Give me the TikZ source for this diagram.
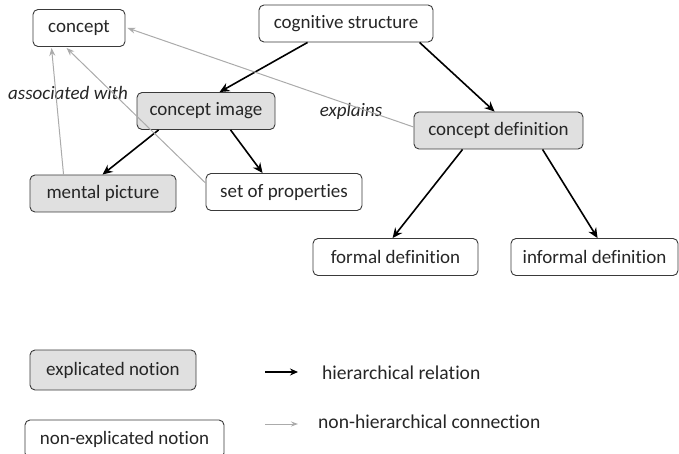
\documentclass[tikz,border=0pt]{standalone}
\usepackage{fontspec}
\setmainfont{Carlito}[Ligatures=NoCommon]
\usetikzlibrary{arrows.meta}
\definecolor{txt}{HTML}{262626}
\definecolor{edge}{HTML}{3A3A3A}
\definecolor{shade}{HTML}{E0E0E0}
\definecolor{soft}{HTML}{ABABAB}
\tikzset{
  notion/.style={draw=edge, line width=0.9pt, rounded corners=5pt, fill=white,
    text=txt, font=\fontsize{19}{21}\selectfont, minimum height=37pt, inner sep=0pt},
  explicated/.style={notion, fill=shade},
  hier/.style={draw=black, line width=1.6pt, -{Stealth[length=10pt,width=9pt]}},
  nonhier/.style={draw=soft, line width=1pt, -{Stealth[length=8pt,width=6pt]}},
  lbl/.style={text=txt, font=\fontsize{19}{21}\selectfont\itshape, inner sep=0pt},
  legendtext/.style={text=txt, font=\fontsize{19.6}{21}\selectfont, inner sep=0pt, anchor=west}
}
\begin{document}
\begin{tikzpicture}[x=1pt,y=-1pt]
\useasboundingbox (0,0) rectangle (679,454);
% concept map
\node[notion, minimum width=92pt] (concept) at (79,28) {concept};
\node[notion, minimum width=174pt] (cog) at (346,23.5) {cognitive structure};
\node[explicated, minimum width=138pt] (image) at (206,111) {concept image};
\node[explicated, minimum width=169pt] (def) at (498.5,130.5) {concept definition};
\node[explicated, minimum width=146pt] (mental) at (103,193.5) {mental picture};
\node[notion, minimum width=156pt] (props) at (284,192) {set of properties};
\node[notion, minimum width=165pt] (formal) at (395.5,257) {formal definition};
\node[notion, minimum width=167pt] (informal) at (594.5,257) {informal definition};
% link labels
\node[lbl] (assoc) at (68,93) {associated with};
\node[lbl] (expl) at (351,111) {explains};
% hierarchical relations
\draw[hier] ([xshift=49pt]cog.south west) -- ([xshift=83pt]image.north west);
\draw[hier] ([xshift=161pt]cog.south west) -- ([xshift=81pt]def.north west);
\draw[hier] ([xshift=22pt]image.south west) -- ([xshift=73pt]mental.north west);
\draw[hier] ([xshift=94pt]image.south west) -- ([xshift=57pt]props.north west);
\draw[hier] ([xshift=49pt]def.south west) -- ([xshift=80pt]formal.north west);
\draw[hier] ([xshift=129pt]def.south west) -- ([xshift=87pt]informal.north west);
% non-hierarchical connections
\draw[nonhier] ([xshift=34pt]mental.north west) -- ([xshift=19pt,yshift=-1pt]concept.south west);
\draw[nonhier] ([yshift=-10pt]props.north west) -- ([xshift=34pt,yshift=-1pt]concept.south west);
\draw[nonhier] ([yshift=3.5pt]def.west) -- ([xshift=2pt]concept.east);
% legend
\node[explicated, minimum width=166pt, minimum height=40pt] (legexp) at (113,370) {explicated notion};
\node[notion, minimum width=199pt, minimum height=38pt] (legnon) at (124.5,439) {non-explicated notion};
\coordinate (h1) at (265,372);
\coordinate (h2) at (298,372);
\coordinate (n1) at (265,424);
\coordinate (n2) at (298,424);
\draw[draw=black, line width=1.6pt, -{Stealth[length=8pt,width=7pt]}] (h1) -- (h2);
\draw[draw=soft, line width=1pt, -{Stealth[length=7pt,width=5pt]}] (n1) -- (n2);
\node[legendtext] (hiertext) at (322,373) {hierarchical relation};
\node[legendtext] (nontext) at (318,422) {non-hierarchical connection};
\end{tikzpicture}
\end{document}
